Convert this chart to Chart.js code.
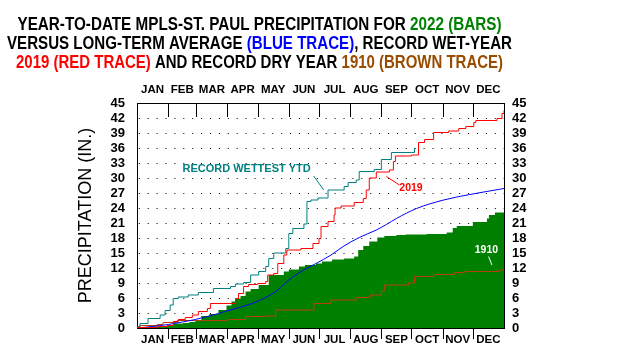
<!DOCTYPE html>
<html><head><meta charset="utf-8">
<script src="https://cdn.jsdelivr.net/npm/chart.js@4"></script>
<style>html,body{margin:0;padding:0;background:#fff}</style>
</head><body>
<canvas id="c" width="626" height="362"></canvas>
<script>
// ---------- DATA ----------
const months = ['JAN','FEB','MAR','APR','MAY','JUN','JUL','AUG','SEP','OCT','NOV','DEC'];
const monthStarts = [0,31,59,90,120,151,181,212,243,273,304,334,365];
const yTicks = [0,3,6,9,12,15,18,21,24,27,30,33,36,39,42,45];

// 2022 year-to-date precipitation (bars) — day of year, inches
const days2022 = [0,5,12,25,36,46,52,58,64,72,81,89,94,98,103,108,113,121,131,146,151,161,167,178,184,194,206,216,220,225,231,239,246,258,267,288,308,314,318,334,348,350,356,365];
const precip2022 = [0,0.1,0.3,0.4,0.9,1.0,1.2,1.6,2.4,2.8,3.6,4.5,5.3,5.9,6.4,7.3,7.8,8.6,10.6,11.3,11.7,12.3,12.6,12.9,13.3,13.7,13.9,14.3,15.6,16.4,17.3,18.1,18.4,18.6,18.7,18.8,19.1,20.0,20.4,21.2,21.9,22.6,23.1,23.1];

// Long-term average (blue trace)
const daysAvg = [0,15,31,45,58,81,98,113,128,140,151,165,178,193,205,221,238,248,258,278,305,331,365];
const precipAvg = [0,0.3,0.7,1.2,1.7,2.9,3.9,4.8,6.1,7.6,9.6,11.5,12.9,14.6,16.3,18.1,19.6,20.7,21.9,23.9,25.6,26.7,27.9];

// Record wet year 2019 (red trace)
const days2019 = [0,20,30,36,41,48,55,61,70,73,98,101,106,111,120,128,130,136,140,146,149,163,175,181,183,190,196,197,203,216,225,228,231,238,251,255,257,273,280,286,295,310,320,327,335,337,358,363,365];
const precip2019 = [0.1,0.3,0.5,1.3,1.7,2.1,2.6,3.3,3.9,4.9,5.9,6.9,8.3,8.7,8.9,9.3,10.6,10.9,12.9,14.6,15.6,15.9,16.9,17.9,20.3,21.3,22.6,24.0,24.4,25.1,25.9,27.6,30.0,31.2,31.6,33.3,34.4,34.6,37.1,37.7,39.1,39.4,39.9,40.3,41.1,41.5,41.9,42.9,43.5];

// Record wettest year-to-date (teal trace)
const daysWettest = [0,3,11,23,28,33,36,41,51,61,76,93,98,106,113,121,128,131,136,148,151,155,166,169,173,180,190,206,210,218,221,236,243,253,273,276];
const precipWettest = [0.3,0.9,1.9,2.6,3.5,4.6,5.9,6.2,6.6,7.1,7.9,8.3,8.8,9.1,10.6,11.3,12.3,13.9,15.0,15.9,18.9,19.9,20.8,25.3,25.6,26.0,27.6,28.3,29.1,29.6,31.3,31.7,33.7,35.1,35.1,36.0];

// Record dry year 1910 (brown trace)
const days1910 = [0,3,20,26,40,90,108,128,138,176,193,218,232,243,246,270,276,295,316,326,360,365];
const precip1910 = [0.2,0.5,0.7,1.1,1.5,1.7,2.3,2.4,3.6,4.9,5.6,6.1,6.6,7.4,8.6,9.0,10.3,10.7,11.1,11.3,11.6,11.6];

// ---------- HELPERS ----------
const pts = (d, v) => d.map((x, i) => ({x, y: v[i]}));
const monthMids = monthStarts.slice(0, 12).map((s, i) => (s + monthStarts[i + 1]) / 2);
const FONT = '"Liberation Sans", Arial, sans-serif';

const titleLines = [
  {w: 484, base: 29.5, segs: [['YEAR-TO-DATE MPLS-ST. PAUL PRECIPITATION FOR ', '#000'], ['2022 (BARS)', '#008000']]},
  {w: 505, base: 48.5, segs: [['VERSUS LONG-TERM AVERAGE ', '#000'], ['(BLUE TRACE)', '#0000ff'], [', RECORD WET-YEAR', '#000']]},
  {w: 487, base: 68, segs: [['2019 (RED TRACE)', '#ff0000'], [' AND RECORD DRY YEAR ', '#000'], ['1910 (BROWN TRACE)', '#994c00']]}
];

const notes = [
  {text: 'RECORD WETTEST YTD', color: '#008080', day: 109, val: 31.8, size: 11, line: [175.7, 30.4, 185.7, 27.6]},
  {text: '2019', color: '#ff0000', day: 272.5, val: 28.0, size: 10.5, line: [248, 30.3, 261, 28.6]},
  {text: '1910', color: '#ffffff', day: 347.5, val: 15.5, size: 10.5, line: [349.7, 14.3, 353, 12.6]}
];

const decorPlugin = {
  id: 'decor',
  afterDatasetsDraw(chart) {
    const {ctx, scales: {x, y}} = chart;
    ctx.save();
    notes.forEach(n => {
      ctx.font = 'bold ' + n.size + 'px ' + FONT;
      ctx.fillStyle = n.color;
      ctx.textAlign = 'center';
      ctx.textBaseline = 'middle';
      ctx.fillText(n.text, x.getPixelForValue(n.day), y.getPixelForValue(n.val));
      ctx.strokeStyle = n.color;
      ctx.lineWidth = 1;
      ctx.beginPath();
      ctx.moveTo(x.getPixelForValue(n.line[0]), y.getPixelForValue(n.line[1]));
      ctx.lineTo(x.getPixelForValue(n.line[2]), y.getPixelForValue(n.line[3]));
      ctx.stroke();
    });
    ctx.restore();
  },
  afterDraw(chart) {
    const {ctx, chartArea: {top, bottom}, scales: {x}} = chart;
    ctx.save();
    // month boundary tick marks
    ctx.strokeStyle = '#000';
    ctx.lineWidth = 1;
    ctx.beginPath();
    monthStarts.slice(1, -1).forEach(d => {
      const px = Math.round(x.getPixelForValue(d)) + 0.5;
      ctx.moveTo(px, top); ctx.lineTo(px, top + 14);
      ctx.moveTo(px, bottom); ctx.lineTo(px, bottom + 11);
    });
    ctx.stroke();
    // multi-coloured title
    ctx.font = 'bold 18.5px ' + FONT;
    ctx.textAlign = 'left';
    ctx.textBaseline = 'alphabetic';
    const cx = 259.5;
    titleLines.forEach(l => {
      const full = l.segs.map(s => s[0]).join('');
      const w = ctx.measureText(full).width;
      const sx = l.w / w;
      ctx.save();
      ctx.translate(cx - l.w / 2, l.base);
      ctx.scale(sx, 1);
      let off = 0;
      l.segs.forEach(s => {
        ctx.fillStyle = s[1];
        ctx.fillText(s[0], off, 0);
        off += ctx.measureText(s[0]).width;
      });
      ctx.restore();
    });
    ctx.restore();
  }
};

const monthAxis = (pos, h, pad) => ({
  type: 'linear', position: pos, min: 0, max: 365,
  afterBuildTicks: s => { s.ticks = monthMids.map(v => ({value: v})); },
  afterFit: s => { s.height = h; },
  ticks: {
    autoSkip: false, maxRotation: 0, padding: pad, color: '#000',
    font: {family: FONT, size: 11.5, weight: 'bold', lineHeight: 1.2},
    callback: v => months[monthMids.indexOf(v)]
  },
  grid: {display: false, drawTicks: false},
  border: {display: true, color: '#000', width: 1}
});

const yLeft = {
  type: 'linear', position: 'left', min: 0, max: 45,
  afterBuildTicks: s => { s.ticks = yTicks.map(v => ({value: v})); },
  afterFit: s => { s.width = 137; },
  ticks: {
    autoSkip: false, padding: 12, color: '#000',
    font: {family: FONT, size: 13, weight: 'bold', lineHeight: 1}
  },
  grid: {
    display: true, drawTicks: false, lineWidth: 1,
    color: c => (c.tick && (c.tick.value === 0 || c.tick.value === 45)) ? 'rgba(0,0,0,0)' : '#000'
  },
  // dotted grid lines (dash applies to grid lines in Chart.js v4)
  border: {display: true, color: '#000', width: 1, dash: [1, 7.9], dashOffset: -0.8},
  title: {display: true, text: 'PRECIPITATION (IN.)', color: '#000',
    font: {family: FONT, size: 18, weight: 'normal'}, padding: {top: 75, bottom: 0}}
};

const yRight = {
  type: 'linear', position: 'right', min: 0, max: 45,
  afterBuildTicks: s => { s.ticks = yTicks.map(v => ({value: v})); },
  afterFit: s => { s.width = 122; },
  ticks: {
    autoSkip: false, padding: 8, color: '#000',
    font: {family: FONT, size: 13, weight: 'bold', lineHeight: 1}
  },
  grid: {display: false, drawTicks: false},
  border: {display: true, color: '#000', width: 1}
};

const lineDs = (label, d, v, color, order, stepped) => ({
  label, data: pts(d, v), borderColor: color, borderWidth: 1, pointRadius: 0,
  fill: false, stepped: stepped, order, tension: stepped ? 0 : 0.3,
  cubicInterpolationMode: stepped ? 'default' : 'monotone'
});

new Chart(document.getElementById('c'), {
  type: 'line',
  data: {
    datasets: [
      {label: '2022', data: pts(days2022, precip2022), borderColor: '#008000', borderWidth: 0,
       backgroundColor: '#008000', fill: 'origin', stepped: true, pointRadius: 0, order: 10},
      lineDs('1910', days1910, precip1910, '#b8400a', 4, true),
      lineDs('Average', daysAvg, precipAvg, '#0000ff', 3, false),
      lineDs('Record wettest YTD', daysWettest, precipWettest, '#008080', 2, true),
      lineDs('2019', days2019, precip2019, '#ff0000', 1, true)
    ]
  },
  options: {
    responsive: false, animation: false, devicePixelRatio: 1,
    layout: {padding: 0},
    plugins: {legend: {display: false}, tooltip: {enabled: false}, title: {display: false}},
    scales: {
      x: monthAxis('bottom', 34, 5),
      x2: monthAxis('top', 103, 6),
      y: yLeft,
      y2: yRight
    }
  },
  plugins: [decorPlugin]
});
</script>
</body></html>
